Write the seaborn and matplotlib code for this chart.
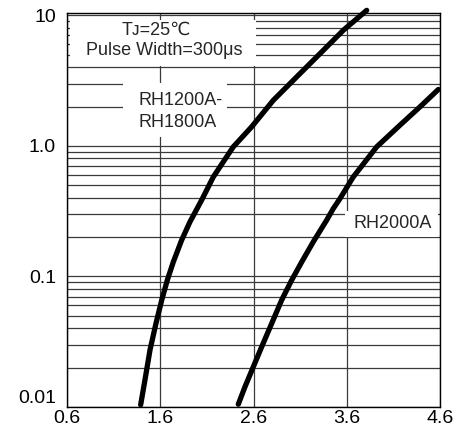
import numpy as np
import pandas as pd
import matplotlib
matplotlib.use("Agg")
import matplotlib.pyplot as plt
from matplotlib.patches import Rectangle
from matplotlib.ticker import FixedLocator, FixedFormatter, LogLocator, NullFormatter
import seaborn as sns

# ---- data ----
rh1200_v = [1.39, 1.436, 1.490, 1.554, 1.616, 1.676, 1.740, 1.830, 1.919, 2.044,
            2.169, 2.383, 2.581, 2.812, 3.063, 3.313, 3.563, 3.814]
rh1200_i = [0.0104, 0.0161, 0.0273, 0.0436, 0.0659, 0.0938, 0.129, 0.190, 0.262, 0.384,
            0.578, 0.982, 1.40, 2.23, 3.37, 5.08, 7.67, 10.9]

rh2000_v = [2.437, 2.509, 2.598, 2.688, 2.795, 2.902, 3.010, 3.117, 3.241, 3.385,
            3.456, 3.528, 3.670, 3.921, 4.171, 4.386, 4.582]
rh2000_i = [0.0105, 0.0143, 0.0203, 0.0289, 0.0436, 0.0659, 0.0938, 0.129, 0.184, 0.270,
            0.331, 0.395, 0.578, 0.982, 1.44, 1.99, 2.70]

x_ticks = [0.6, 1.6, 2.6, 3.6, 4.6]
x_tick_labels = ["0.6", "1.6", "2.6", "3.6", "4.6"]
y_ticks = [0.01, 0.1, 1.0, 10]
y_tick_labels = ["0.01", "0.1", "1.0", "10"]

df = pd.concat([
    pd.DataFrame({"V": rh1200_v, "I": rh1200_i, "dev": "RH1200A-RH1800A"}),
    pd.DataFrame({"V": rh2000_v, "I": rh2000_i, "dev": "RH2000A"}),
])

sns.set_style("white")
plt.rcParams["font.family"] = ["Liberation Sans", "DejaVu Sans"]

fig = plt.figure(figsize=(4.58, 4.34), dpi=100)
ax = fig.add_axes([67/458, 1 - 407/434, 373/458, 394/434])

ax.set_yscale("log")
ax.set_xlim(0.6, 4.6)
ax.set_ylim(0.01, 10.4)

gc = "#3a3a3a"
ax.yaxis.set_minor_locator(LogLocator(base=10, subs=np.arange(2, 10)))
ax.yaxis.set_minor_formatter(NullFormatter())
ax.yaxis.set_major_locator(FixedLocator(y_ticks))
ax.yaxis.set_major_formatter(FixedFormatter(y_tick_labels))
ax.xaxis.set_major_locator(FixedLocator(x_ticks))
ax.xaxis.set_major_formatter(FixedFormatter(x_tick_labels))
ax.grid(True, which="both", axis="y", color=gc, lw=0.9, zorder=1)
ax.grid(True, which="major", axis="x", color=gc, lw=0.9, zorder=1)
ax.set_axisbelow(True)

ax.tick_params(axis="both", which="both", length=0, labelsize=14, colors="black")
ax.tick_params(axis="y", pad=8)
ax.tick_params(axis="x", pad=2)
for s in ax.spines.values():
    s.set_color("black")
    s.set_linewidth(1.0)

# white label boxes (cover grid)
ax.add_patch(Rectangle((0.008, 0.865), 0.499, 0.117, transform=ax.transAxes,
                       facecolor="white", edgecolor="none", zorder=2))
ax.add_patch(Rectangle((0.15, 0.685), 0.28, 0.137, transform=ax.transAxes,
                       facecolor="white", edgecolor="none", zorder=2))
ax.add_patch(Rectangle((0.745, 0.432), 0.25, 0.066, transform=ax.transAxes,
                       facecolor="white", edgecolor="none", zorder=2))

sns.lineplot(data=df, x="V", y="I", units="dev", estimator=None, sort=False,
             color="black", lw=3.8, ax=ax, legend=False, zorder=5)
for ln in ax.lines:
    ln.set_solid_capstyle("round")
    ln.set_solid_joinstyle("round")
    ln.set_clip_on(False)

ax.set_xlabel("")
ax.set_ylabel("")

fig.canvas.draw()
ax.yaxis.get_major_ticks()[0].label1.set_verticalalignment("bottom")

fs = 13
ax.text(0.239, 0.957, "Tᴊ=25℃", transform=ax.transAxes,
        ha="center", va="center", fontsize=fs, zorder=6)
ax.text(0.26, 0.906, "Pulse Width=300μs", transform=ax.transAxes,
        ha="center", va="center", fontsize=fs, zorder=6)
ax.text(0.193, 0.779, "RH1200A-", transform=ax.transAxes,
        ha="left", va="center", fontsize=fs, zorder=6)
ax.text(0.193, 0.723, "RH1800A", transform=ax.transAxes,
        ha="left", va="center", fontsize=fs, zorder=6)
ax.text(0.873, 0.467, "RH2000A", transform=ax.transAxes,
        ha="center", va="center", fontsize=fs, zorder=6)

fig.savefig("out.png", dpi=100)
